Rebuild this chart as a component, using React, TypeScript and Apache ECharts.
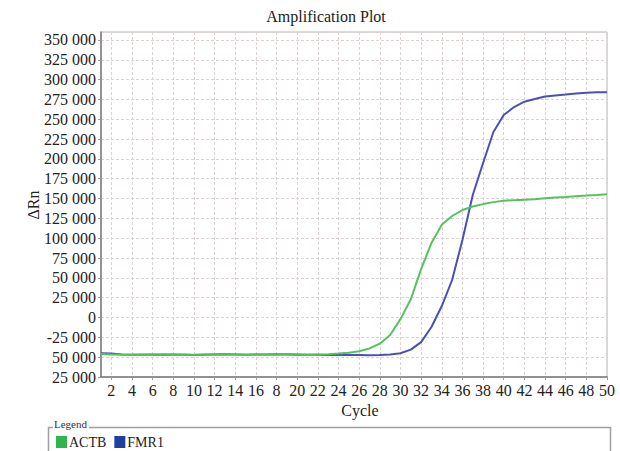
import React, { useEffect, useRef } from "react";
import * as echarts from "echarts";

const cycles = [
  "1", "2", "3", "4", "5", "6", "7", "8", "9", "10",
  "11", "12", "13", "14", "15", "16", "17", "18", "19", "20",
  "21", "22", "23", "24", "25", "26", "27", "28", "29", "30",
  "31", "32", "33", "34", "35", "36", "37", "38", "39", "40",
  "41", "42", "43", "44", "45", "46", "47", "48", "49", "50",
];

const actb = [
  -46000, -46500, -47000, -47000, -46500, -46800, -46200, -46800, -46500, -47000,
  -46500, -46200, -46500, -46500, -46800, -46500, -46800, -46500, -46000, -46200,
  -46800, -46500, -46200, -45500, -44500, -42500, -39000, -33000, -22000, -2000,
  23000, 61000, 94000, 117000, 128000, 135500, 140000, 143000, 145500, 147300,
  148000, 148500, 149200, 150300, 151200, 152000, 153000, 153700, 154500, 155400,
];

const fmr1 = [
  -45000, -45500, -46500, -47000, -46800, -46500, -46800, -46500, -46800, -47200,
  -46800, -46500, -46200, -46500, -46800, -46500, -46500, -46200, -46500, -46800,
  -47000, -47000, -47200, -47200, -47300, -47300, -47500, -47300, -46600, -45000,
  -40500, -31000, -12000, 14500, 47300, 97700, 154500, 194800, 233900, 255400,
  265400, 272100, 275500, 278700, 280000, 281200, 282500, 283400, 284100, 284000,
];

const xTickCycles = [2, 4, 6, 8, 10, 12, 14, 16, 18, 20, 22, 24, 26, 28, 30, 32, 34, 36, 38, 40, 42, 44, 46, 48, 50];
const xTickLabels = ["2", "4", "6", "8", "10", "12", "14", "16", "8", "20", "22", "24", "26", "28", "30", "32", "34", "36", "38", "40", "42", "44", "46", "48", "50"];

const yTickValues = [-75000, -50000, -25000, 0, 25000, 50000, 75000, 100000, 125000, 150000, 175000, 200000, 225000, 250000, 275000, 300000, 325000, 350000];
const yTickLabels = ["25 000", "50 000", "-25 000", "0", "25 000", "50 000", "75 000", "100 000", "125 000", "150 000", "175 000", "200 000", "225 000", "250 000", "275 000", "300 000", "325 000", "350 000"];

const FONT = "Liberation Serif";

export default function App() {
  const ref = useRef<HTMLDivElement>(null);

  useEffect(() => {
    if (!ref.current) return;
    const chart = echarts.init(ref.current, undefined, { renderer: "svg" });
    const isTick = (_i: number, v: string) => xTickCycles.indexOf(Number(v)) >= 0;
    chart.setOption({
      animation: false,
      backgroundColor: "#ffffff",
      textStyle: { fontFamily: FONT },
      grid: {
        left: 101,
        right: 13,
        top: 32,
        bottom: 74,
        show: true,
        borderColor: "#b4b4b4",
        borderWidth: 1,
        backgroundColor: "#ffffff",
      },
      xAxis: {
        type: "category",
        data: cycles,
        boundaryGap: false,
        axisLine: { onZero: false, lineStyle: { color: "#7a7a7a", width: 1.5 } },
        axisTick: { show: true, interval: isTick, length: 3, lineStyle: { color: "#9a9a9a" } },
        axisLabel: {
          interval: isTick,
          margin: 5,
          fontFamily: "serif",
          fontSize: 16,
          color: "#222",
          formatter: (v: string) => {
            const i = xTickCycles.indexOf(Number(v));
            return i >= 0 ? xTickLabels[i] : "";
          },
        },
        splitLine: {
          show: true,
          interval: isTick,
          lineStyle: { color: "#dcd2d2", width: 1, type: [3, 2] },
        },
      },
      yAxis: {
        type: "value",
        min: -75000,
        max: 360000,
        interval: 25000,
        axisLine: { show: true, onZero: false, lineStyle: { color: "#7a7a7a", width: 1.5 } },
        axisTick: { show: true, length: 3, lineStyle: { color: "#9a9a9a" } },
        axisLabel: {
          margin: 5,
          fontFamily: "serif",
          fontSize: 16,
          color: "#222",
          showMaxLabel: false,
          formatter: (v: number) => {
            const i = yTickValues.indexOf(v);
            return i >= 0 ? yTickLabels[i] : "";
          },
        },
        splitLine: {
          show: true,
          lineStyle: { color: "#dcd2d2", width: 1, type: [3, 2] },
        },
      },
      legend: {
        show: true,
        left: 51,
        top: 430,
        icon: "rect",
        itemWidth: 11,
        itemHeight: 12,
        itemGap: 8,
        textStyle: { fontFamily: FONT, fontSize: 14, color: "#222", padding: [0, 0, 0, -3] },
        data: [
          { name: "ACTB", itemStyle: { color: "#2fb54c" } },
          { name: "FMR1", itemStyle: { color: "#213f9e" } },
        ],
        formatter: (n: string) => n,
      },
      graphic: [
        {
          type: "text",
          x: 326,
          y: 16,
          style: {
            text: "Amplification Plot",
            fontFamily: FONT,
            fontSize: 16,
            fill: "#222",
            textAlign: "center",
            textVerticalAlign: "middle",
          },
        },
        {
          type: "text",
          x: 360,
          y: 410,
          style: {
            text: "Cycle",
            fontFamily: FONT,
            fontSize: 16,
            fill: "#222",
            textAlign: "center",
            textVerticalAlign: "middle",
          },
        },
        {
          type: "text",
          x: 33,
          y: 205,
          rotation: Math.PI / 2,
          style: {
            text: "ΔRn",
            fontFamily: FONT,
            fontSize: 16,
            fill: "#222",
            textAlign: "center",
            textVerticalAlign: "middle",
          },
        },
        {
          type: "rect",
          shape: { x: 48.5, y: 427.5, width: 562, height: 40 },
          style: { fill: "none", stroke: "#a0a0a0", lineWidth: 1.5 },
          silent: true,
        },
        {
          type: "text",
          x: 53,
          y: 424,
          style: {
            text: "Legend",
            fontFamily: FONT,
            fontSize: 11,
            fill: "#333",
            textVerticalAlign: "middle",
            backgroundColor: "#ffffff",
            padding: [0, 2, 0, 1],
          },
        },
      ],
      series: [
        {
          name: "ACTB",
          type: "line",
          data: actb,
          showSymbol: false,
          symbol: "none",
          lineStyle: { color: "#55c262", width: 2 },
          itemStyle: { color: "#55c262" },
          z: 3,
        },
        {
          name: "FMR1",
          type: "line",
          data: fmr1,
          showSymbol: false,
          symbol: "none",
          lineStyle: { color: "#4a51b5", width: 2 },
          itemStyle: { color: "#4a51b5" },
          z: 2,
        },
      ],
    });
    return () => chart.dispose();
  }, []);

  return (
    <div
      ref={ref}
      style={{ position: "absolute", left: 0, top: 0, width: 620, height: 451 }}
    />
  );
}
